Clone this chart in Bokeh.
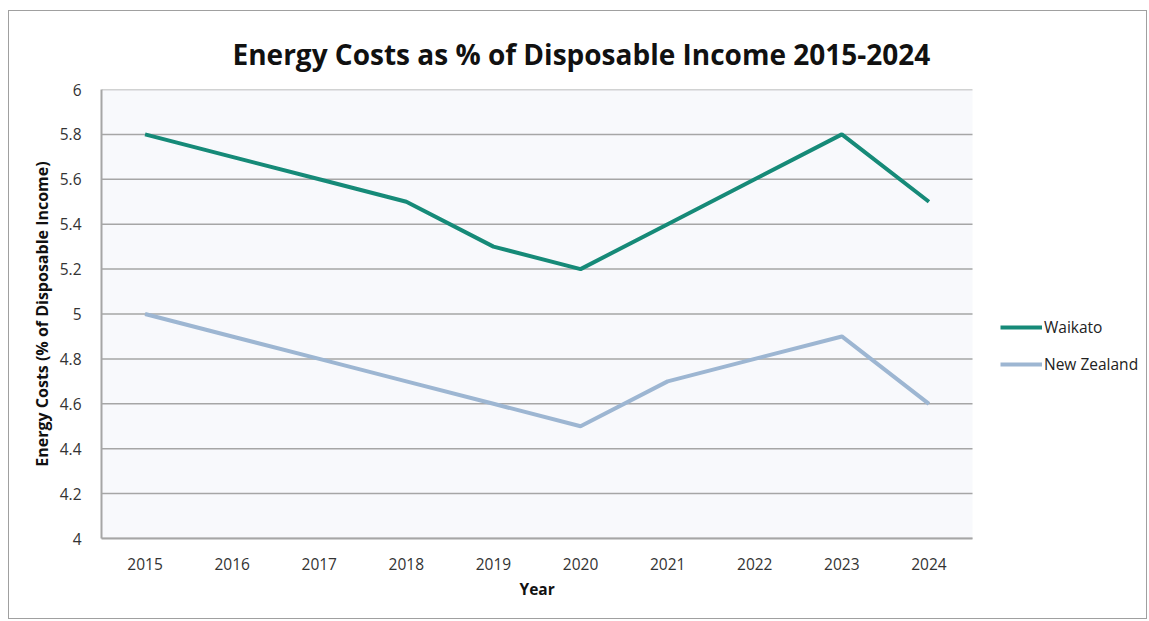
from bokeh.plotting import figure
from bokeh.models import Legend, LegendItem, Title, FixedTicker, BoxAnnotation
from bokeh.embed import file_html
from bokeh.resources import INLINE

years = [2015, 2016, 2017, 2018, 2019, 2020, 2021, 2022, 2023, 2024]
year_labels = ["2015", "2016", "2017", "2018", "2019", "2020", "2021", "2022", "2023", "2024"]
waikato = [5.8, 5.7, 5.6, 5.5, 5.3, 5.2, 5.4, 5.6, 5.8, 5.5]
new_zealand = [5.0, 4.9, 4.8, 4.7, 4.6, 4.5, 4.7, 4.8, 4.9, 4.6]
y_ticks = [4, 4.2, 4.4, 4.6, 4.8, 5, 5.2, 5.4, 5.6, 5.8, 6]

FONT = "Open Sans"

# layout (pixels)
W, H = 1139, 609
LEFT, RIGHT, TOP, BOTTOM = 92, 0, 78, 82
PLOT_W = 871                      # width of the shaded plotting area
FRAME_W = W - LEFT - RIGHT        # frame also holds the legend on its right

x_lo = years[0] - 0.5
x_hi = years[-1] + 0.5
x_end = x_lo + (x_hi - x_lo) * FRAME_W / PLOT_W

p = figure(width=W, height=H, x_range=(x_lo, x_end), y_range=(y_ticks[0], y_ticks[-1]),
           output_backend="svg", toolbar_location=None,
           min_border_left=LEFT, min_border_right=RIGHT, min_border_top=TOP, min_border_bottom=BOTTOM)
p.styles = {"border": "1px solid #a0a0a0", "margin-left": "8px", "margin-top": "10px"}
p.background_fill_color = "white"
p.border_fill_color = "white"
p.outline_line_color = None

t = Title(text="Energy Costs as % of Disposable Income 2015-2024", align="left",
          text_font=FONT, text_font_size="28px", text_font_style="bold",
          text_color="#111111", offset=131, standoff=34)
p.add_layout(t, "above")

# shaded plotting area and horizontal grid lines, limited to the year span
p.add_layout(BoxAnnotation(left=x_lo, right=x_hi, bottom=y_ticks[0], top=y_ticks[-1],
                           fill_color="#f8f9fc", fill_alpha=1, line_color=None, level="underlay"))
p.segment(x0=[x_lo] * len(y_ticks), x1=[x_hi] * len(y_ticks), y0=y_ticks, y1=y_ticks,
          line_color="#a6a6a6", line_width=1.5)

r1 = p.line(years, waikato, line_color="#168a78", line_width=4)
r2 = p.line(years, new_zealand, line_color="#9db6d2", line_width=4)

p.xaxis.ticker = FixedTicker(ticks=years)
p.xaxis.major_label_overrides = dict(zip(years, year_labels))
p.xaxis.bounds = (x_lo, x_hi)
p.yaxis.ticker = FixedTicker(ticks=y_ticks)
p.yaxis.major_label_overrides = {v: ("%g" % v) for v in y_ticks}
for ax in (p.xaxis[0], p.yaxis[0]):
    ax.major_tick_line_color = None
    ax.minor_tick_line_color = None
    ax.axis_line_color = "#a6a6a6"
    ax.axis_line_width = 2
    ax.major_label_text_font = FONT
    ax.major_label_text_font_size = "15.5px"
    ax.major_label_text_color = "#333333"
p.xaxis.major_label_standoff = 13
p.yaxis.major_label_standoff = 14
p.yaxis.axis_label = "Energy Costs (% of Disposable Income)"
p.yaxis.axis_label_text_font = FONT
p.yaxis.axis_label_text_font_size = "16px"
p.yaxis.axis_label_text_font_style = "bold"
p.yaxis.axis_label_text_color = "#111111"
p.yaxis.axis_label_standoff = 4
p.grid.visible = False

# x-axis title, centred under the shaded plotting area
xt = Title(text="Year", align="left", text_font=FONT, text_font_size="15.5px",
           text_font_style="bold", text_color="#111111", offset=418, standoff=6)
p.add_layout(xt, "below")

legend = Legend(items=[LegendItem(label="Waikato", renderers=[r1]),
                       LegendItem(label="New Zealand", renderers=[r2])],
                location=(899, 163), orientation="vertical",
                glyph_width=42, glyph_height=20, label_height=20,
                label_standoff=2, spacing=15, padding=0, margin=0,
                border_line_color=None, background_fill_alpha=0,
                label_text_font=FONT, label_text_font_size="15.5px",
                label_text_color="#222222")
p.add_layout(legend, "center")

open("out.html", "w").write(file_html(p, INLINE))
